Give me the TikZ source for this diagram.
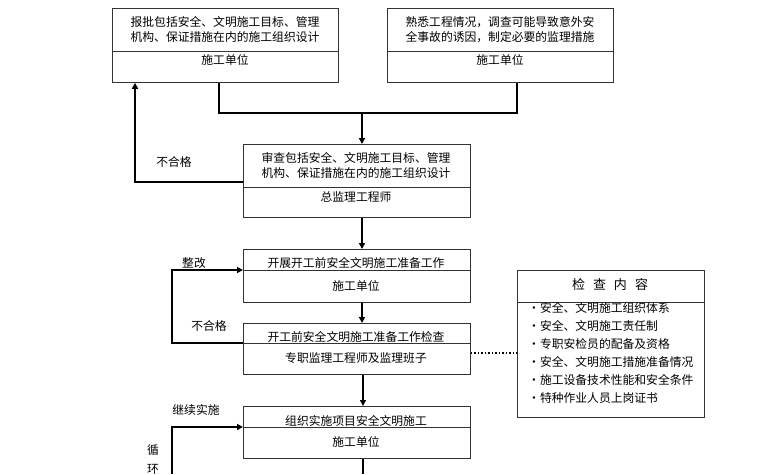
\documentclass[tikz,border=0pt]{standalone}
\usepackage{fontspec}
\newfontfamily\cjk{Noto Sans CJK SC}
\usetikzlibrary{arrows.meta}
\begin{document}
\begin{tikzpicture}[x=1pt,y=-1pt,
  box/.style={draw=black!80, line width=0.8pt, inner sep=0, anchor=north west},
  divl/.style={draw=black!80, line width=0.8pt},
  txt/.style={font=\cjk\fontsize{11.8}{15}\selectfont, align=center, inner sep=0},
  lbl/.style={font=\cjk\fontsize{11.8}{15}\selectfont, inner sep=0},
  wire/.style={line width=1.5pt},
  arr/.style={line width=1.5pt, -{Triangle[length=6pt,width=6pt]}}]
\useasboundingbox (0,0) rectangle (760,474);
% boxes
\node[box, minimum width=226, minimum height=74] (b1) at (112,8) {};
\node[box, minimum width=226, minimum height=74] (b2) at (387,8) {};
\node[box, minimum width=227, minimum height=73] (b3) at (243,144) {};
\node[box, minimum width=227, minimum height=53] (b4) at (243,249) {};
\node[box, minimum width=227, minimum height=51] (b5) at (243,323) {};
\node[box, minimum width=187, minimum height=147] (b6) at (517,270) {};
\node[box, minimum width=227, minimum height=52] (b7) at (243,406) {};
% dividers
\draw[divl] (b1.west |- 0,51) -- (b1.east |- 0,51);
\draw[divl] (b2.west |- 0,51) -- (b2.east |- 0,51);
\draw[divl] (b3.west |- 0,187) -- (b3.east |- 0,187);
\draw[divl] (b4.west |- 0,270) -- (b4.east |- 0,270);
\draw[divl] (b5.west |- 0,343) -- (b5.east |- 0,343);
\draw[divl] (b6.west |- 0,302) -- (b6.east |- 0,302);
\draw[divl] (b7.west |- 0,427) -- (b7.east |- 0,427);
% texts
\node[txt] (t1) at (225,29.5) {报批包括安全、文明施工目标、管理\\机构、保证措施在内的施工组织设计};
\node[txt] (u1) at (225,60) {施工单位};
\node[txt] (t2) at (500,29.5) {熟悉工程情况，调查可能导致意外安\\全事故的诱因，制定必要的监理措施};
\node[txt] (u2) at (500,60) {施工单位};
\node[txt] (t3) at (356,165) {审查包括安全、文明施工目标、管理\\机构、保证措施在内的施工组织设计};
\node[txt] (u3) at (356,197) {总监理工程师};
\node[txt] (t4) at (356,263) {开展开工前安全文明施工准备工作};
\node[txt] (u4) at (356,286) {施工单位};
\node[txt] (t5) at (356,337) {开工前安全文明施工准备工作检查};
\node[txt] (u5) at (356,358) {专职监理工程师及监理班子};
\node[txt] (t7) at (356,421) {组织实施项目安全文明施工};
\node[txt] (u7) at (356,442) {施工单位};
\node[lbl, font=\cjk\fontsize{13}{15}\selectfont] (t6) at (610,285) {检\hspace{8pt}查\hspace{8pt}内\hspace{8pt}容};
\node[lbl, anchor=west, align=left, font=\cjk\fontsize{11.8}{18}\selectfont] (i6) at (528,353) {·安全、文明施工组织体系\\·安全、文明施工责任制\\·专职安检员的配备及资格\\·安全、文明施工措施准备情况\\·施工设备技术性能和安全条件\\·特种作业人员上岗证书};
% labels
\node[lbl] (l1) at (174,162) {不合格};
\node[lbl] (l2) at (194,263) {整改};
\node[lbl] (l3) at (209,326) {不合格};
\node[lbl] (l4) at (196,410) {继续实施};
\node[lbl] (l5) at (153,450) {循};
\node[lbl] (l6) at (153,469) {环};
% connectors
\coordinate (j1) at (219,113);
\coordinate (j2) at (517,113);
\coordinate (j3) at (362,113);
\coordinate (k1) at (135,182);
\coordinate (k2) at (172,343);
\coordinate (k3) at (172,270);
\coordinate (k4) at (172,474);
\coordinate (k5) at (172,427);
\coordinate (m1) at (363,474);
\draw[wire] (b1.south -| j1) -- (j1) -- (j2) -- (b2.south -| j2);
\draw[arr] (j3) -- (j3 |- b3.north);
\draw[arr] (b3.west |- k1) -- (k1) -- (k1 |- b1.south);
\draw[arr] (b3.south -| j3) -- (b4.north -| j3);
\draw[arr] (b4.south -| j3) -- (b5.north -| j3);
\draw[arr] (b5.west |- k2) -- (k2) -- (k3) -- (b4.west |- k3);
\draw[line width=1.5pt, dotted] (b5.east |- 0,353) -- (b6.west |- 0,353);
\draw[arr] (b5.south -| m1) -- (b7.north -| m1);
\draw[arr] (k4) -- (k5) -- (b7.west |- k5);
\draw[wire] (b7.south -| m1) -- (m1);
\end{tikzpicture}
\end{document}
